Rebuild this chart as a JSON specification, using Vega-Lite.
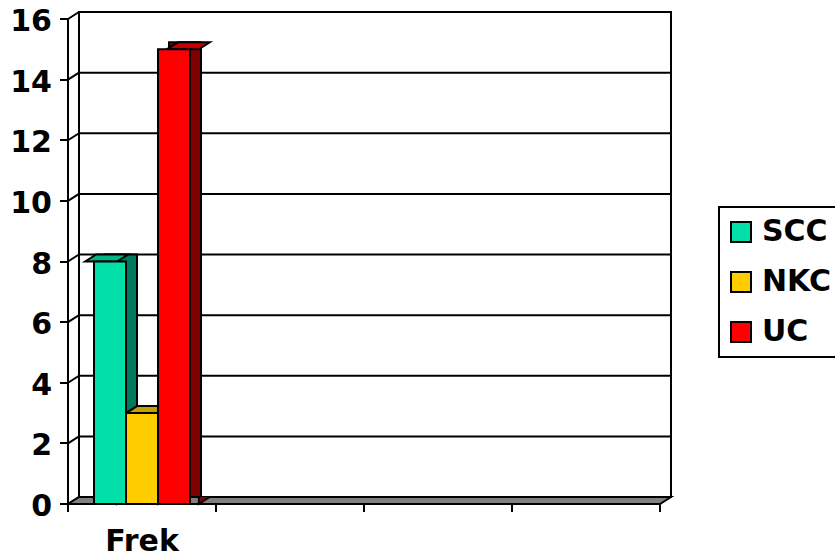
{
  "$schema": "https://vega.github.io/schema/vega-lite/v6.json",
  "width": 592,
  "height": 485,
  "autosize": "none",
  "padding": {"left": 79, "top": 12, "right": 164, "bottom": 61},
  "background": "white",
  "datasets": {
    "freq": [
      {"cat": "Frek", "s": "SCC", "n": 8},
      {"cat": "Frek", "s": "NKC", "n": 3},
      {"cat": "Frek", "s": "UC", "n": 15}
    ],
    "ticks": [
      {"v": 0}, {"v": 2}, {"v": 4}, {"v": 6}, {"v": 8},
      {"v": 10}, {"v": 12}, {"v": 14}, {"v": 16}
    ]
  },
  "config": {
    "font": "DejaVu Sans",
    "view": {"stroke": "black", "strokeWidth": 2, "fill": "white"},
    "legend": {
      "orient": "none",
      "legendX": 640,
      "legendY": 195,
      "symbolType": "square",
      "symbolSize": 400,
      "symbolStrokeColor": "black",
      "symbolStrokeWidth": 2,
      "symbolOpacity": 1,
      "symbolOffset": -3,
      "labelFont": "DejaVu Sans",
      "labelFontSize": 30,
      "labelFontWeight": "bold",
      "labelColor": "black",
      "labelOffset": 6,
      "rowPadding": 20,
      "padding": 10,
      "strokeColor": "black",
      "strokeWidth": 2,
      "fillColor": "white"
    }
  },
  "resolve": {"scale": {"x": "independent", "y": "independent", "xOffset": "independent"}},
  "layer": [
    {
      "description": "Gridlines on the back wall",
      "data": {"name": "ticks"},
      "mark": {"type": "rule", "color": "black", "strokeWidth": 2},
      "encoding": {
        "y": {"field": "v", "type": "quantitative", "scale": {"domain": [0, 16], "nice": false}, "axis": null}
      }
    },
    {
      "description": "Short diagonals on the left wall joining each gridline to its tick",
      "data": {"name": "ticks"},
      "mark": {"type": "point", "shape": "M0,0 L-11,7", "size": 4, "filled": false, "stroke": "black", "strokeWidth": 2, "opacity": 1},
      "encoding": {
        "x": {"value": 0},
        "y": {"field": "v", "type": "quantitative", "scale": {"domain": [0, 16], "nice": false}, "axis": null}
      }
    },
    {
      "description": "Grey floor slab",
      "data": {"values": [{"v": 0}]},
      "mark": {"type": "point", "shape": "M0,0 L592,0 L581,7 L-11,7 Z", "size": 4, "filled": true, "fill": "#808080", "stroke": "black", "strokeWidth": 2, "opacity": 1},
      "encoding": {
        "x": {"value": 0},
        "y": {"field": "v", "type": "quantitative", "scale": {"domain": [0, 16], "nice": false}, "axis": null}
      }
    },
    {
      "description": "Back of each column (shows as the dark side face)",
      "data": {"name": "freq"},
      "mark": {"type": "bar", "stroke": "black", "strokeWidth": 2},
      "encoding": {
        "x": {"field": "cat", "type": "nominal", "scale": {"domain": ["Frek", "b", "c", "d"], "paddingInner": 0, "paddingOuter": 0}, "axis": null},
        "xOffset": {"field": "s", "scale": {"domain": ["SCC", "NKC", "UC"], "paddingInner": 0, "paddingOuter": 0.8125}},
        "y": {"field": "n", "type": "quantitative", "stack": null, "scale": {"domain": [0, 16], "nice": false}, "axis": null},
        "fill": {
          "condition": [
            {"test": "datum.s === 'SCC'", "value": "#007A5C"},
            {"test": "datum.s === 'NKC'", "value": "#806600"}
          ],
          "value": "#800000"
        }
      }
    },
    {
      "description": "Lower corner of each side face",
      "data": {"name": "freq"},
      "mark": {"type": "point", "shape": "M16,0 L5,7 L5,0", "size": 4, "filled": true, "stroke": "black", "strokeWidth": 2, "opacity": 1},
      "encoding": {
        "x": {"field": "cat", "type": "nominal", "scale": {"domain": ["Frek", "b", "c", "d"], "paddingInner": 0, "paddingOuter": 0}, "axis": null},
        "xOffset": {"field": "s", "scale": {"domain": ["SCC", "NKC", "UC"], "paddingInner": 0, "paddingOuter": 0.8125}},
        "y": {"datum": 0, "type": "quantitative", "scale": {"domain": [0, 16], "nice": false}, "axis": null},
        "fill": {
          "condition": [
            {"test": "datum.s === 'SCC'", "value": "#007A5C"},
            {"test": "datum.s === 'NKC'", "value": "#806600"}
          ],
          "value": "#800000"
        }
      }
    },
    {
      "description": "Top face of each column",
      "data": {"name": "freq"},
      "mark": {"type": "point", "shape": "M-27,7 L5,7 L16,0 L-16,0 Z", "size": 4, "filled": true, "stroke": "black", "strokeWidth": 2, "opacity": 1},
      "encoding": {
        "x": {"field": "cat", "type": "nominal", "scale": {"domain": ["Frek", "b", "c", "d"], "paddingInner": 0, "paddingOuter": 0}, "axis": null},
        "xOffset": {"field": "s", "scale": {"domain": ["SCC", "NKC", "UC"], "paddingInner": 0, "paddingOuter": 0.8125}},
        "y": {"field": "n", "type": "quantitative", "scale": {"domain": [0, 16], "nice": false}, "axis": null},
        "fill": {
          "condition": [
            {"test": "datum.s === 'SCC'", "value": "#00B486"},
            {"test": "datum.s === 'NKC'", "value": "#C4A000"}
          ],
          "value": "#C40000"
        }
      }
    },
    {
      "description": "Front face of each column, with the axes and legend",
      "data": {"name": "freq"},
      "mark": {"type": "bar", "stroke": "black", "strokeWidth": 2},
      "encoding": {
        "x": {
          "field": "cat",
          "type": "nominal",
          "scale": {"domain": ["Frek", "b", "c", "d"], "paddingInner": 0, "paddingOuter": 0, "range": [-11, 581]},
          "axis": {
            "orient": "bottom",
            "offset": 7,
            "translate": 0,
            "title": null,
            "tickBand": "extent",
            "labelExpr": "datum.value === 'Frek' ? datum.value : ''",
            "labelAngle": 0,
            "labelFont": "DejaVu Sans",
            "labelFontSize": 30,
            "labelFontWeight": "bold",
            "labelColor": "black",
            "labelPadding": 15,
            "domainColor": "black",
            "domainWidth": 2,
            "tickColor": "black",
            "tickWidth": 2,
            "tickSize": 8,
            "grid": false
          }
        },
        "xOffset": {"field": "s", "scale": {"domain": ["SCC", "NKC", "UC"], "paddingInner": 0, "paddingOuter": 0.8125}},
        "y": {
          "field": "n",
          "type": "quantitative",
          "stack": null,
          "scale": {"domain": [0, 16], "nice": false, "range": [492, 7]},
          "axis": {
            "orient": "left",
            "offset": 11,
            "translate": 0,
            "title": null,
            "values": [0, 2, 4, 6, 8, 10, 12, 14, 16],
            "labelFont": "DejaVu Sans",
            "labelFontSize": 30,
            "labelFontWeight": "bold",
            "labelColor": "black",
            "labelPadding": 8,
            "labelOffset": 3,
            "domainColor": "black",
            "domainWidth": 2,
            "tickColor": "black",
            "tickWidth": 2,
            "tickSize": 8,
            "grid": false
          }
        },
        "color": {
          "field": "s",
          "type": "nominal",
          "scale": {"domain": ["SCC", "NKC", "UC"], "range": ["#00E0A8", "#FFCC00", "#FF0000"]},
          "legend": {"title": null}
        }
      }
    }
  ]
}
